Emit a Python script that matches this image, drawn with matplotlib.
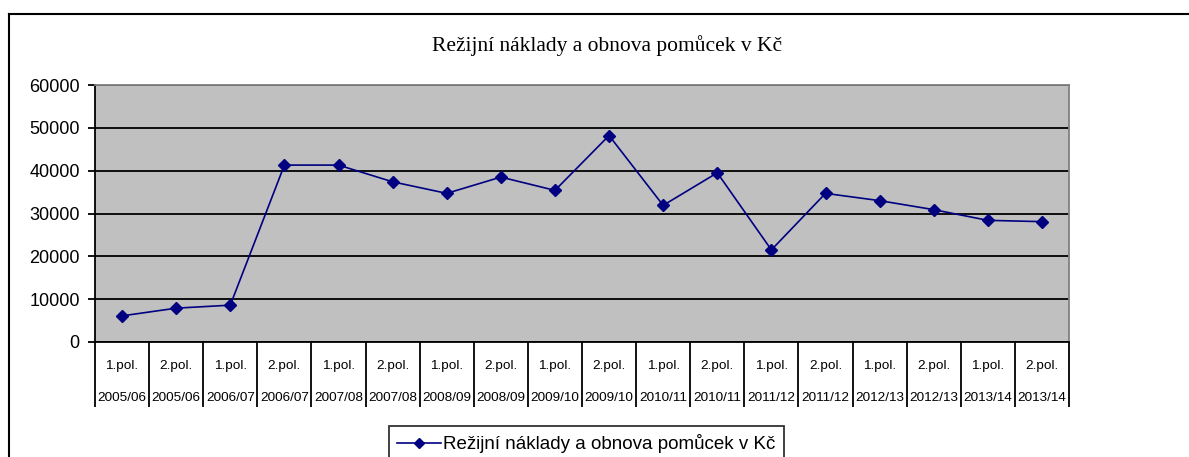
import matplotlib
matplotlib.use("Agg")
from matplotlib import pyplot as plt
from matplotlib.lines import Line2D
import numpy as np

# data
halves = ["1.pol.", "2.pol."] * 9
years = ["2005/06", "2005/06", "2006/07", "2006/07", "2007/08", "2007/08",
         "2008/09", "2008/09", "2009/10", "2009/10", "2010/11", "2010/11",
         "2011/12", "2011/12", "2012/13", "2012/13", "2013/14", "2013/14"]
costs = [6100, 7900, 8600, 41300, 41300, 37400, 34700, 38500, 35400, 48200,
         31900, 39500, 21500, 34700, 33000, 30900, 28400, 28100]
series_name = "Režijní náklady a obnova pomůcek v Kč"
title = "Režijní náklady a obnova pomůcek v Kč"

W, H = 1189, 457
fig = plt.figure(figsize=(W / 100, H / 100), dpi=100)
ax = fig.add_axes([95 / W, 1 - 342 / H, (1069 - 95) / W, (342 - 85) / H])
ax.set_facecolor("#C0C0C0")

n = len(costs)
x = np.arange(n) + 0.5
ax.plot(x, costs, color="#000080", lw=1.2, marker="D", ms=6.5,
        mfc="#000080", mec="#000080")

ax.set_xlim(0, n)
ax.set_ylim(0, 60000)
ax.set_yticks(np.arange(0, 60001, 10000))
ax.yaxis.grid(True, color="black", lw=1.3)
ax.set_axisbelow(True)
ax.tick_params(axis="y", length=5, width=1.3, direction="out", pad=6,
               labelsize=13)
for lab in ax.get_yticklabels():
    lab.set_family("Liberation Sans")

# category separators below the axis
ax.set_xticks(np.arange(n + 1))
ax.set_xticklabels([])
ax.tick_params(axis="x", length=47, width=1.3, direction="out")
for i in range(n):
    ax.annotate(halves[i], (x[i], 0), xycoords=("data", "axes fraction"),
                xytext=(0, -17), textcoords="offset points", ha="center",
                va="center", fontsize=9.7, family="Liberation Sans")
    ax.annotate(years[i], (x[i], 0), xycoords=("data", "axes fraction"),
                xytext=(0, -40), textcoords="offset points", ha="center",
                va="center", fontsize=9.7, family="Liberation Sans")

ax.spines["top"].set_color("#808080")
ax.spines["right"].set_color("#808080")
for s in ax.spines.values():
    s.set_linewidth(1.3)
ax.spines["left"].set_color("black")
ax.spines["bottom"].set_color("black")

fig.text(607 / W, 1 - 46 / H, title, ha="center", va="center",
         fontsize=15.5, family="Liberation Serif")

# outer chart frame (only top and left visible)
fig.add_artist(Line2D([9 / W, 1], [1 - 14 / H, 1 - 14 / H], color="black",
                      lw=1.5, transform=fig.transFigure))
fig.add_artist(Line2D([9 / W, 9 / W], [0, 1 - 14 / H], color="black",
                      lw=1.5, transform=fig.transFigure))

leg = fig.legend([Line2D([], [], color="#000080", lw=1.2, marker="D", ms=5.5)],
                 [series_name], loc="upper left",
                 bbox_to_anchor=(389 / W, 1 - 426 / H), frameon=True,
                 fancybox=False, edgecolor="black", handlelength=2.3,
                 handletextpad=0.15, borderpad=0.45, borderaxespad=0,
                 prop={"family": "Liberation Sans", "size": 13.5})
leg.get_frame().set_linewidth(1.3)

fig.savefig("out.png", dpi=100)
